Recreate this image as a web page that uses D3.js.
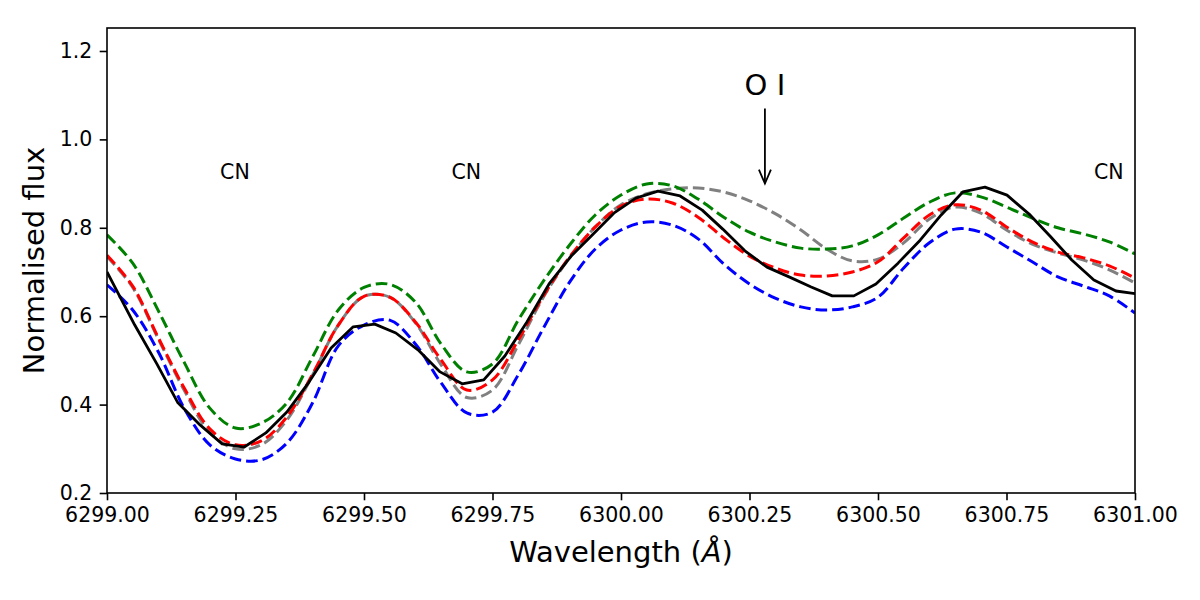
<!DOCTYPE html>
<html>
<head>
<meta charset="utf-8">
<script src="https://cdn.jsdelivr.net/npm/d3@7"></script>
<style>
  body { margin: 0; background: #fff; }
  svg { font-family: "DejaVu Sans", sans-serif; }
</style>
</head>
<body>
<svg width="1200" height="600"></svg>
<script>
// observed spectrum (black solid)
var obsWave = [6299.000, 6299.054, 6299.097, 6299.138, 6299.181, 6299.224, 6299.267, 6299.309, 6299.350, 6299.393,
  6299.436, 6299.479, 6299.521, 6299.562, 6299.605, 6299.648, 6299.691, 6299.733, 6299.774, 6299.817,
  6299.860, 6299.903, 6299.946, 6299.986, 6300.029, 6300.072, 6300.115, 6300.158, 6300.198, 6300.241,
  6300.284, 6300.327, 6300.370, 6300.411, 6300.453, 6300.496, 6300.539, 6300.582, 6300.623, 6300.665,
  6300.708, 6300.751, 6300.794, 6300.835, 6300.877, 6300.920, 6300.963, 6301.006];
var obsFlux = [0.700, 0.580, 0.492, 0.404, 0.354, 0.311, 0.304, 0.336, 0.383, 0.451,
  0.528, 0.576, 0.582, 0.562, 0.524, 0.474, 0.447, 0.456, 0.510, 0.587,
  0.673, 0.736, 0.786, 0.833, 0.867, 0.883, 0.872, 0.840, 0.797, 0.748,
  0.711, 0.689, 0.666, 0.646, 0.646, 0.673, 0.720, 0.772, 0.829, 0.881,
  0.892, 0.874, 0.831, 0.781, 0.727, 0.682, 0.657, 0.650];

// synthetic spectra (dashed)
var modelWave = [6299.00, 6299.05, 6299.10, 6299.15, 6299.20, 6299.25, 6299.30, 6299.35, 6299.40, 6299.45,
  6299.50, 6299.55, 6299.60, 6299.65, 6299.70, 6299.75, 6299.80, 6299.85, 6299.90, 6299.95,
  6300.00, 6300.05, 6300.10, 6300.15, 6300.20, 6300.25, 6300.30, 6300.35, 6300.40, 6300.45,
  6300.50, 6300.55, 6300.60, 6300.65, 6300.70, 6300.75, 6300.80, 6300.85, 6300.90, 6300.95, 6301.00];
var grayFlux = [0.735, 0.665, 0.548, 0.433, 0.337, 0.300, 0.309, 0.365, 0.467, 0.580,
  0.645, 0.643, 0.585, 0.490, 0.416, 0.433, 0.535, 0.645, 0.732, 0.802,
  0.852, 0.877, 0.888, 0.890, 0.881, 0.861, 0.832, 0.795, 0.752, 0.725,
  0.729, 0.766, 0.820, 0.847, 0.833, 0.795, 0.763, 0.743, 0.727, 0.705, 0.675];
var greenFlux = [0.784, 0.720, 0.612, 0.496, 0.392, 0.347, 0.358, 0.404, 0.508, 0.614,
  0.665, 0.672, 0.632, 0.537, 0.474, 0.492, 0.591, 0.681, 0.761, 0.829,
  0.874, 0.899, 0.895, 0.865, 0.824, 0.790, 0.768, 0.754, 0.752, 0.759,
  0.784, 0.822, 0.858, 0.879, 0.870, 0.847, 0.822, 0.800, 0.786, 0.768, 0.741];
var blueFlux = [0.671, 0.614, 0.519, 0.392, 0.309, 0.277, 0.275, 0.313, 0.404, 0.533,
  0.580, 0.591, 0.537, 0.449, 0.381, 0.383, 0.467, 0.575, 0.677, 0.752,
  0.795, 0.813, 0.806, 0.775, 0.718, 0.673, 0.641, 0.621, 0.614, 0.621,
  0.643, 0.709, 0.766, 0.797, 0.790, 0.757, 0.723, 0.689, 0.668, 0.646, 0.607];
var redFlux = [0.738, 0.668, 0.551, 0.438, 0.345, 0.309, 0.318, 0.372, 0.469, 0.580,
  0.645, 0.643, 0.587, 0.501, 0.433, 0.456, 0.546, 0.648, 0.734, 0.802,
  0.849, 0.865, 0.856, 0.824, 0.777, 0.736, 0.709, 0.693, 0.691, 0.700,
  0.723, 0.777, 0.829, 0.852, 0.840, 0.802, 0.768, 0.745, 0.732, 0.714, 0.686];

var xTicks = [6299.00, 6299.25, 6299.50, 6299.75, 6300.00, 6300.25, 6300.50, 6300.75, 6301.00];
var yTicks = [0.2, 0.4, 0.6, 0.8, 1.0, 1.2];

// line labels
var cnX = [6299.22, 6299.67, 6300.92];
var cnY = 0.91;
var oiX = 6300.28, oiTextY = 1.10, oiArrowFrom = 1.07, oiArrowTo = 0.90;

var svg = d3.select("svg"),
    margin = {top: 28, right: 65, bottom: 107, left: 107},
    width = svg.attr("width") - margin.left - margin.right,
    height = svg.attr("height") - margin.top - margin.bottom,
    g = svg.append("g").attr("transform", "translate(" + margin.left + "," + margin.top + ")");

var x = d3.scaleLinear().domain([6299, 6301]).range([0, width]),
    y = d3.scaleLinear().domain([0.2, 1.252]).range([height, 0]);

svg.append("defs").append("clipPath").attr("id", "plotclip")
  .append("rect").attr("width", width).attr("height", height);

var models = [
  {flux: grayFlux, color: "#808080"},
  {flux: greenFlux, color: "#008000"},
  {flux: blueFlux, color: "#0000ff"},
  {flux: redFlux, color: "#ff0000"}
];

var smooth = d3.line()
  .x(function(d) { return x(d[0]); })
  .y(function(d) { return y(d[1]); })
  .curve(d3.curveCatmullRom);

var straight = d3.line()
  .x(function(d) { return x(d[0]); })
  .y(function(d) { return y(d[1]); });

var plot = g.append("g").attr("clip-path", "url(#plotclip)");

plot.selectAll(".model")
  .data(models)
  .enter().append("path")
  .attr("class", "model")
  .attr("fill", "none")
  .attr("stroke", function(d) { return d.color; })
  .attr("stroke-width", 3)
  .attr("stroke-dasharray", "11.6,5")
  .attr("d", function(d) { return smooth(modelWave.map(function(w, i) { return [w, d.flux[i]]; })); });

plot.append("path")
  .attr("fill", "none")
  .attr("stroke", "#000")
  .attr("stroke-width", 2.8)
  .attr("stroke-linejoin", "round")
  .attr("d", straight(obsWave.map(function(w, i) { return [w, obsFlux[i]]; })));

// axes
var xAxis = g.append("g")
  .attr("transform", "translate(0," + height + ")")
  .call(d3.axisBottom(x).tickValues(xTicks).tickFormat(d3.format(".2f")).tickSize(7.3).tickPadding(7.3).tickSizeOuter(0));
var yAxis = g.append("g")
  .call(d3.axisLeft(y).tickValues(yTicks).tickFormat(d3.format(".1f")).tickSize(7.3).tickPadding(7.3).tickSizeOuter(0));

[xAxis, yAxis].forEach(function(a) {
  a.select(".domain").remove();
  a.selectAll(".tick line").attr("stroke", "#000").attr("stroke-width", 1.6);
  a.selectAll(".tick text").attr("fill", "#000")
    .style("font-family", "DejaVu Sans").style("font-size", "20.5px");
});

g.append("rect")
  .attr("width", width).attr("height", height)
  .attr("fill", "none").attr("stroke", "#000").attr("stroke-width", 1.6);

// axis titles
var xl = svg.append("text")
  .attr("x", margin.left + width / 2).attr("y", 562)
  .attr("text-anchor", "middle")
  .style("font-size", "29px");
xl.append("tspan").text("Wavelength (");
xl.append("tspan").style("font-style", "italic").text("\u00C5");
xl.append("tspan").text(")");

svg.append("text")
  .attr("transform", "translate(44," + (margin.top + height / 2) + ") rotate(-90)")
  .attr("text-anchor", "middle")
  .style("font-size", "29px")
  .text("Normalised flux");

// annotations
g.selectAll(".cn")
  .data(cnX)
  .enter().append("text")
  .attr("class", "cn")
  .attr("x", function(d) { return x(d); })
  .attr("y", y(cnY))
  .style("font-size", "20.5px")
  .text("CN");

g.append("text")
  .attr("x", x(oiX)).attr("y", y(oiTextY))
  .attr("text-anchor", "middle")
  .style("font-size", "29px")
  .text("O I");

var ax = x(oiX), ay0 = y(oiArrowFrom), ay1 = y(oiArrowTo);
g.append("line")
  .attr("x1", ax).attr("x2", ax).attr("y1", ay0).attr("y2", ay1)
  .attr("stroke", "#000").attr("stroke-width", 1.8);
g.append("path")
  .attr("d", "M" + (ax - 6) + "," + (ay1 - 14) + "L" + ax + "," + ay1 + "L" + (ax + 6) + "," + (ay1 - 14))
  .attr("fill", "none").attr("stroke", "#000").attr("stroke-width", 1.8);
</script>
</body>
</html>
